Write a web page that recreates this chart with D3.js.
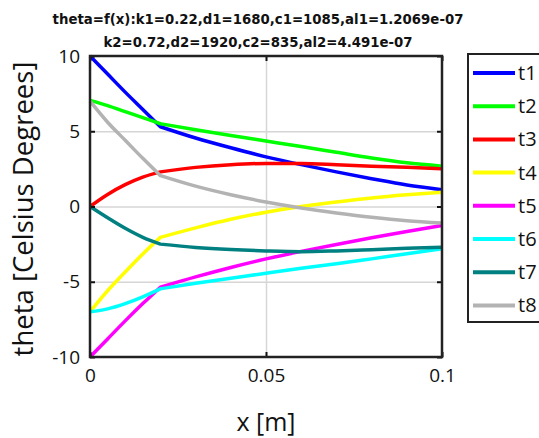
<!DOCTYPE html>
<html>
<head>
<meta charset="utf-8">
<script src="https://cdn.jsdelivr.net/npm/d3@7"></script>
<style>
  body { margin: 0; background: #fff; }
  svg { display: block; }
</style>
</head>
<body>
<div id="chart-area"></div>
<script>
// data (kink at x = 0.02, layer boundary)
const xs = [0, 0.005, 0.01, 0.015, 0.02, 0.03, 0.04, 0.05, 0.06, 0.07, 0.08, 0.09, 0.1]
const t1 = [10, 8.8, 7.6, 6.45, 5.3, 4.55, 3.9, 3.3, 2.78, 2.3, 1.85, 1.43, 1.12]
const t2 = [7.05, 6.7, 6.3, 5.9, 5.5, 5.1, 4.72, 4.35, 3.98, 3.6, 3.22, 2.9, 2.68]
const t3 = [0, 0.8, 1.45, 1.95, 2.3, 2.6, 2.78, 2.86, 2.86, 2.78, 2.68, 2.6, 2.5]
const t4 = [-7.0, -5.6, -4.35, -3.15, -2.05, -1.42, -0.85, -0.38, 0.0, 0.3, 0.57, 0.78, 0.95]
const t5 = [-10, -8.8, -7.6, -6.45, -5.36, -4.68, -4.05, -3.48, -2.98, -2.52, -2.08, -1.66, -1.26]
const t6 = [-7.0, -6.8, -6.45, -6.0, -5.47, -5.1, -4.77, -4.43, -4.1, -3.81, -3.48, -3.14, -2.81]
const t7 = [0, -0.75, -1.45, -2.05, -2.5, -2.72, -2.86, -2.95, -3.0, -2.95, -2.87, -2.78, -2.7]
const t8 = [7.0, 5.6, 4.4, 3.2, 2.05, 1.35, 0.78, 0.3, -0.1, -0.43, -0.72, -0.95, -1.1]
const kinkIndex = 4

const seriesNames = ["t1", "t2", "t3", "t4", "t5", "t6", "t7", "t8"]
const seriesValues = [t1, t2, t3, t4, t5, t6, t7, t8]
const seriesColors = ["#0000ff", "#00ff00", "#ff0000", "#ffff00", "#ff00ff", "#00ffff", "#008080", "#b3b3b3"]

const xTicks = [0, 0.05, 0.1]
const yTicks = [-10, -5, 0, 5, 10]

const titleLines = [
	"theta=f(x):k1=0.22,d1=1680,c1=1085,al1=1.2069e-07",
	"k2=0.72,d2=1920,c2=835,al2=4.491e-07"
]

const MARGIN = { LEFT: 90, TOP: 56 }
const WIDTH = 352
const HEIGHT = 301
const FONT = "'Open Sans', 'DejaVu Sans', sans-serif"

const svg = d3.select("#chart-area").append("svg")
	.attr("width", 539)
	.attr("height", 438)

const g = svg.append("g")
	.attr("transform", `translate(${MARGIN.LEFT}, ${MARGIN.TOP})`)

// scales
const x = d3.scaleLinear().domain([0, 0.1]).range([0, WIDTH])
const y = d3.scaleLinear().domain([-10, 10]).range([HEIGHT, 0])

// grid
g.append("g")
	.attr("class", "grid")
	.call(d3.axisLeft(y).tickValues([-5, 0, 5]).tickSize(-WIDTH).tickFormat(""))
g.append("g")
	.attr("class", "grid")
	.attr("transform", `translate(0, ${HEIGHT})`)
	.call(d3.axisBottom(x).tickValues([0.05]).tickSize(-HEIGHT).tickFormat(""))
g.selectAll(".grid .domain").remove()
g.selectAll(".grid line")
	.attr("stroke", "#d6d6d6")
	.attr("stroke-width", 1.5)

// lines: each layer drawn as its own smooth piece so the kink stays sharp
const line = d3.line()
	.x(d => x(d[0]))
	.y(d => y(d[1]))
	.curve(d3.curveMonotoneX)

seriesValues.forEach((vals, k) => {
	const pts = vals.map((v, i) => [xs[i], v])
	const pieces = [pts.slice(0, kinkIndex + 1), pts.slice(kinkIndex)]
	const d = pieces.map(p => line(p)).join("").replace(/M(?!.*M)/, "L")
	g.append("path")
		.attr("fill", "none")
		.attr("stroke", seriesColors[k])
		.attr("stroke-width", 3.5)
		.attr("stroke-linejoin", "round")
		.attr("d", d)
})

// axes
g.append("g")
	.attr("transform", `translate(0, ${HEIGHT})`)
	.call(d3.axisBottom(x).tickValues(xTicks).tickSizeInner(-5).tickSizeOuter(0).tickPadding(12).tickFormat(d => String(d)))
g.append("g")
	.call(d3.axisLeft(y).tickValues(yTicks).tickSizeInner(-5).tickSizeOuter(0).tickPadding(10).tickFormat(d => String(d)))
g.append("g")
	.attr("transform", `translate(${WIDTH}, 0)`)
	.call(d3.axisRight(y).tickValues(yTicks).tickSizeInner(-5).tickSizeOuter(0).tickFormat(""))
g.append("g")
	.call(d3.axisTop(x).tickValues(xTicks).tickSizeInner(-5).tickSizeOuter(0).tickFormat(""))

g.selectAll(".tick line").filter(function () { return !this.closest(".grid") })
	.attr("stroke", "#111")
	.attr("stroke-width", 2)
g.selectAll(".domain").remove()
g.selectAll(".tick text")
	.attr("font-family", FONT)
	.attr("font-size", "19px")
	.attr("fill", "#111")

// box
g.append("rect")
	.attr("width", WIDTH)
	.attr("height", HEIGHT)
	.attr("fill", "none")
	.attr("stroke", "#222")
	.attr("stroke-width", 2.5)

// title
svg.append("g").selectAll("text")
	.data(titleLines)
	.join("text")
	.attr("x", 258)
	.attr("y", (d, i) => 24 + i * 23)
	.attr("text-anchor", "middle")
	.attr("font-family", "'DejaVu Sans', sans-serif")
	.attr("font-weight", "bold")
	.attr("font-size", "13.3px")
	.attr("fill", "#111")
	.text(d => d)

// axis labels
svg.append("text")
	.attr("x", MARGIN.LEFT + WIDTH / 2)
	.attr("y", 431)
	.attr("text-anchor", "middle")
	.attr("font-family", FONT)
	.attr("font-size", "25px")
	.attr("fill", "#111")
	.text("x [m]")
svg.append("text")
	.attr("transform", "rotate(-90)")
	.attr("x", -209)
	.attr("y", 33)
	.attr("text-anchor", "middle")
	.attr("font-family", FONT)
	.attr("font-size", "27.5px")
	.attr("fill", "#111")
	.text("theta [Celsius Degrees]")

// legend
const legend = svg.append("g")
	.attr("transform", "translate(468, 54)")
legend.append("rect")
	.attr("width", 80)
	.attr("height", 268)
	.attr("fill", "#fff")
	.attr("stroke", "#222")
	.attr("stroke-width", 2)
const item = legend.selectAll(".item")
	.data(seriesNames)
	.join("g")
	.attr("class", "item")
	.attr("transform", (d, i) => `translate(0, ${19 + i * 33.2})`)
item.append("line")
	.attr("x1", 5)
	.attr("x2", 47)
	.attr("stroke", (d, i) => seriesColors[i])
	.attr("stroke-width", 4)
item.append("text")
	.attr("x", 50)
	.attr("dy", "0.35em")
	.attr("font-family", FONT)
	.attr("font-size", "20px")
	.attr("fill", "#111")
	.text(d => d)
</script>
</body>
</html>
